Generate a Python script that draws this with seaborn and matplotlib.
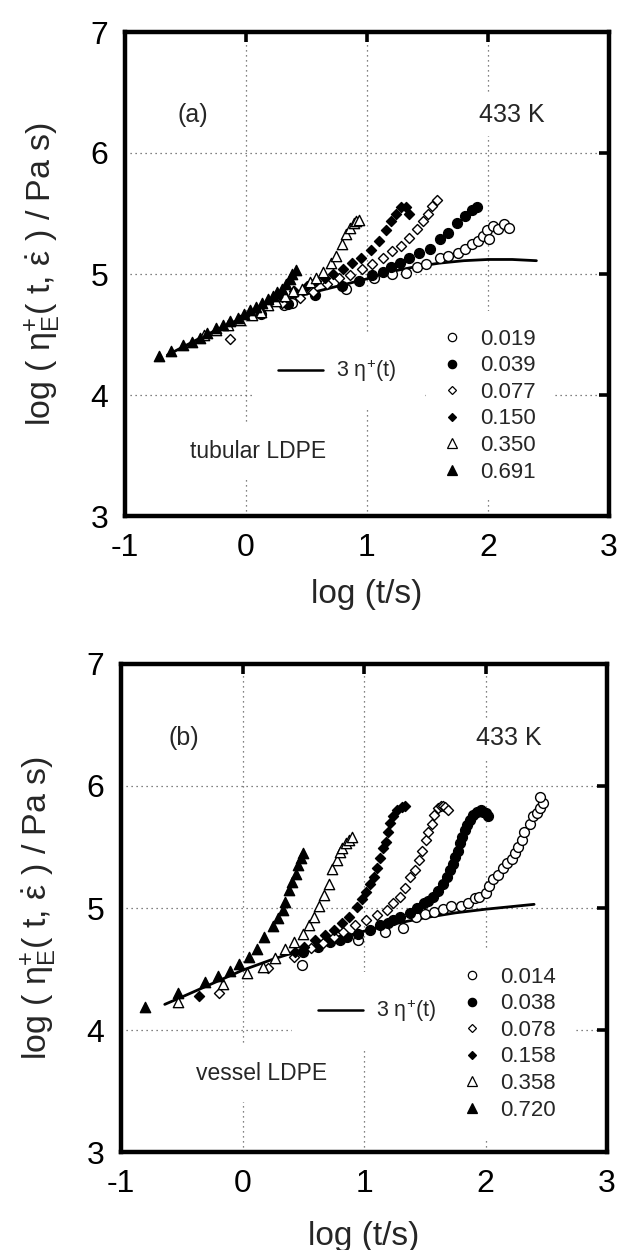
import matplotlib
matplotlib.use("Agg")
import matplotlib.pyplot as plt
import seaborn as sns
from matplotlib.lines import Line2D

# ---------------- data: panel (a) tubular LDPE ----------------
a_rates = ["0.019", "0.039", "0.077", "0.150", "0.350", "0.691"]
a_x_019 = [0.31, 0.38, 0.83, 1.06, 1.21, 1.32, 1.41, 1.49, 1.6, 1.67, 1.75, 1.81, 1.87, 1.92, 1.96, 1.99, 2.01, 2.04, 2.08, 2.13, 2.17]
a_y_019 = [4.74, 4.76, 4.88, 4.97, 5.0, 5.01, 5.06, 5.08, 5.13, 5.15, 5.17, 5.21, 5.25, 5.27, 5.31, 5.36, 5.29, 5.4, 5.37, 5.41, 5.38]
a_x_039 = [0.12, 0.35, 0.57, 0.79, 0.93, 1.04, 1.13, 1.2, 1.27, 1.35, 1.43, 1.52, 1.6, 1.67, 1.74, 1.81, 1.87, 1.91]
a_y_039 = [4.67, 4.75, 4.83, 4.9, 4.94, 4.99, 5.02, 5.06, 5.09, 5.13, 5.17, 5.21, 5.29, 5.34, 5.42, 5.48, 5.53, 5.55]
a_x_077 = [-0.13, 0.3, 0.45, 0.55, 0.67, 0.77, 0.86, 0.96, 1.04, 1.13, 1.21, 1.28, 1.35, 1.41, 1.46, 1.5, 1.54, 1.58]
a_y_077 = [4.46, 4.76, 4.8, 4.85, 4.92, 4.97, 4.99, 5.04, 5.08, 5.13, 5.19, 5.23, 5.3, 5.37, 5.44, 5.5, 5.56, 5.61]
a_x_150 = [0.2, 0.3, 0.4, 0.5, 0.58, 0.65, 0.72, 0.8, 0.88, 0.95, 1.03, 1.1, 1.16, 1.2, 1.24, 1.28, 1.32, 1.35]
a_y_150 = [4.76, 4.81, 4.86, 4.9, 4.94, 4.97, 5.0, 5.04, 5.09, 5.13, 5.2, 5.27, 5.36, 5.44, 5.5, 5.55, 5.55, 5.5]
a_x_350 = [-0.35, -0.25, -0.15, -0.05, 0.05, 0.12, 0.18, 0.25, 0.32, 0.39, 0.46, 0.53, 0.58, 0.64, 0.7, 0.74, 0.79, 0.83, 0.86, 0.89, 0.91, 0.93]
a_y_350 = [4.5, 4.54, 4.58, 4.62, 4.66, 4.69, 4.74, 4.78, 4.82, 4.86, 4.88, 4.93, 4.97, 5.02, 5.09, 5.15, 5.25, 5.33, 5.38, 5.42, 5.44, 5.45]
a_x_691 = [-0.72, -0.62, -0.52, -0.45, -0.38, -0.32, -0.25, -0.19, -0.13, -0.07, -0.02, 0.03, 0.08, 0.13, 0.18, 0.22, 0.26, 0.3, 0.33, 0.36, 0.38, 0.41]
a_y_691 = [4.32, 4.36, 4.41, 4.44, 4.47, 4.51, 4.55, 4.58, 4.61, 4.64, 4.67, 4.7, 4.73, 4.76, 4.79, 4.82, 4.85, 4.88, 4.92, 4.96, 5.0, 5.03]
a_line_x = [-0.65, -0.4, -0.2, 0.0, 0.2, 0.4, 0.6, 0.8, 1.0, 1.2, 1.4, 1.6, 1.8, 2.0, 2.2, 2.4]
a_line_y = [4.33, 4.46, 4.56, 4.65, 4.74, 4.81, 4.86, 4.91, 4.96, 5.02, 5.06, 5.09, 5.11, 5.12, 5.12, 5.11]

# ---------------- data: panel (b) vessel LDPE ----------------
b_rates = ["0.014", "0.038", "0.078", "0.158", "0.358", "0.720"]
b_x_014 = [0.49, 0.95, 1.17, 1.32, 1.43, 1.5, 1.58, 1.65, 1.72, 1.8, 1.86, 1.91, 1.95, 2.0, 2.03, 2.06, 2.1, 2.14, 2.18, 2.22, 2.24, 2.27, 2.3, 2.32, 2.37, 2.39, 2.42, 2.45, 2.47, 2.45]
b_y_014 = [4.53, 4.74, 4.8, 4.84, 4.93, 4.95, 4.97, 4.99, 5.02, 5.02, 5.04, 5.08, 5.09, 5.12, 5.18, 5.24, 5.27, 5.33, 5.37, 5.4, 5.45, 5.5, 5.56, 5.62, 5.69, 5.75, 5.78, 5.82, 5.86, 5.91]
b_x_038 = [0.5, 0.62, 0.72, 0.8, 0.86, 0.95, 1.05, 1.13, 1.2, 1.24, 1.3, 1.38, 1.44, 1.49, 1.53, 1.57, 1.61, 1.65, 1.68, 1.71, 1.73, 1.75, 1.77, 1.79, 1.81, 1.83, 1.85, 1.87, 1.9, 1.93, 1.96, 1.98, 2.0, 2.02]
b_y_038 = [4.64, 4.68, 4.72, 4.74, 4.76, 4.79, 4.82, 4.86, 4.88, 4.9, 4.93, 4.96, 5.0, 5.04, 5.06, 5.09, 5.14, 5.2, 5.25, 5.31, 5.36, 5.42, 5.47, 5.53, 5.58, 5.64, 5.68, 5.72, 5.76, 5.79, 5.8, 5.79, 5.78, 5.75]
b_x_078 = [-0.19, 0.21, 0.42, 0.56, 0.66, 0.75, 0.83, 0.93, 1.02, 1.11, 1.19, 1.24, 1.3, 1.34, 1.38, 1.42, 1.45, 1.48, 1.51, 1.53, 1.56, 1.58, 1.61, 1.63, 1.65, 1.67, 1.69]
b_y_078 = [4.3, 4.51, 4.6, 4.67, 4.71, 4.76, 4.8, 4.86, 4.9, 4.94, 4.98, 5.04, 5.09, 5.16, 5.25, 5.31, 5.39, 5.47, 5.56, 5.62, 5.69, 5.76, 5.82, 5.84, 5.84, 5.83, 5.8]
b_x_158 = [-0.36, 0.43, 0.51, 0.6, 0.68, 0.75, 0.82, 0.88, 0.94, 0.98, 1.02, 1.05, 1.08, 1.11, 1.13, 1.16, 1.18, 1.2, 1.21, 1.24, 1.27, 1.31, 1.34]
b_y_158 = [4.28, 4.64, 4.68, 4.74, 4.78, 4.82, 4.88, 4.93, 5.01, 5.07, 5.13, 5.2, 5.25, 5.33, 5.41, 5.49, 5.54, 5.62, 5.7, 5.75, 5.8, 5.83, 5.84]
b_x_358 = [-0.53, -0.16, 0.04, 0.17, 0.27, 0.35, 0.42, 0.5, 0.55, 0.59, 0.63, 0.67, 0.71, 0.74, 0.78, 0.8, 0.82, 0.85, 0.88, 0.9]
b_y_358 = [4.23, 4.38, 4.47, 4.52, 4.59, 4.66, 4.72, 4.79, 4.86, 4.93, 5.02, 5.11, 5.2, 5.32, 5.39, 5.46, 5.49, 5.53, 5.56, 5.58]
b_x_720 = [-0.8, -0.53, -0.31, -0.2, -0.1, -0.03, 0.05, 0.12, 0.18, 0.25, 0.29, 0.33, 0.35, 0.38, 0.41, 0.44, 0.46, 0.48, 0.5]
b_y_720 = [4.19, 4.3, 4.39, 4.44, 4.48, 4.54, 4.6, 4.66, 4.76, 4.85, 4.92, 4.98, 5.05, 5.15, 5.21, 5.28, 5.35, 5.41, 5.45]
b_line_x = [-0.64, -0.5, -0.25, 0.0, 0.25, 0.5, 0.75, 1.0, 1.25, 1.5, 1.75, 2.0, 2.2, 2.4]
b_line_y = [4.21, 4.27, 4.38, 4.49, 4.58, 4.66, 4.74, 4.81, 4.87, 4.92, 4.96, 4.99, 5.01, 5.03]

x_ticks = [-1, 0, 1, 2, 3]
y_ticks = [3, 4, 5, 6, 7]

# ---------------- style ----------------
sns.set_style("white")
plt.rcParams["font.family"] = ["Liberation Sans", "DejaVu Sans"]
plt.rcParams["mathtext.fontset"] = "custom"
plt.rcParams["mathtext.rm"] = "Liberation Sans"
plt.rcParams["mathtext.it"] = "Liberation Sans:italic"
plt.rcParams["axes.unicode_minus"] = False

# marker specs per series order (lowest to highest rate)
styles = [
    dict(marker="o", face="white", s=50),
    dict(marker="o", face="black", s=50),
    dict(marker="D", face="white", s=26),
    dict(marker="D", face="black", s=26),
    dict(marker="^", face="white", s=55),
    dict(marker="^", face="black", s=55),
]
leg_ms = [6, 6, 4.5, 4.5, 6.5, 6.5]

fig = plt.figure(figsize=(6.18, 12.5), dpi=100)
W, H = 618, 1250
ax_a = fig.add_axes([125 / W, 1 - 516 / H, 484 / W, 484 / H])
ax_b = fig.add_axes([121 / W, 1 - 1152 / H, 486 / W, 488 / H])

panels = [
    dict(ax=ax_a, rates=a_rates,
         xs=[a_x_019, a_x_039, a_x_077, a_x_150, a_x_350, a_x_691],
         ys=[a_y_019, a_y_039, a_y_077, a_y_150, a_y_350, a_y_691],
         lx=a_line_x, ly=a_line_y, tag="(a)", name="tubular LDPE",
         tag_xy=(-0.44, 6.31), temp_xy=(2.2, 6.31), name_xy=(0.1, 3.53),
         leg_anchor=(0.622, 0.228), line_anchor=(0.262, 0.30), xpad=12),
    dict(ax=ax_b, rates=b_rates,
         xs=[b_x_014, b_x_038, b_x_078, b_x_158, b_x_358, b_x_720],
         ys=[b_y_014, b_y_038, b_y_078, b_y_158, b_y_358, b_y_720],
         lx=b_line_x, ly=b_line_y, tag="(b)", name="vessel LDPE",
         tag_xy=(-0.48, 6.39), temp_xy=(2.19, 6.39), name_xy=(0.16, 3.64),
         leg_anchor=(0.668, 0.222), line_anchor=(0.352, 0.289), xpad=16),
]

white_box = dict(facecolor="white", edgecolor="none", pad=6)

for p in panels:
    ax = p["ax"]
    ax.set_xlim(-1, 3)
    ax.set_ylim(3, 7)
    ax.set_xticks(x_ticks)
    ax.set_yticks(y_ticks)
    ax.set_xticklabels([str(t) for t in x_ticks])
    ax.set_yticklabels([str(t) for t in y_ticks])
    ax.grid(True, color="0.35", linestyle=(0, (1, 3)), linewidth=0.9)
    ax.set_axisbelow(True)
    for sp in ax.spines.values():
        sp.set_visible(True)
        sp.set_linewidth(3.2)
        sp.set_color("black")
        sp.set_zorder(6)
    ax.tick_params(direction="in", length=7, width=2.6, top=True, right=True,
                   labelsize=23, pad=12, colors="black")

    sns.lineplot(x=p["lx"], y=p["ly"], color="black", linewidth=2.0, ax=ax,
                 sort=False, estimator=None, zorder=2)
    for xs, ys, st in zip(p["xs"], p["ys"], styles):
        sns.scatterplot(x=xs, y=ys, marker=st["marker"], s=st["s"],
                        facecolor=st["face"], edgecolor="black", linewidth=1.0,
                        ax=ax, zorder=3)

    ax.set_xlabel("log (t/s)", fontsize=24, labelpad=p["xpad"])
    ax.set_ylabel(r"log ( $\mathrm{\eta}_{\mathrm{E}}^{+}$( t, $\dot{\mathrm{\varepsilon}}$ ) / Pa s)",
                  fontsize=24.5, labelpad=20)

    ax.text(*p["tag_xy"], p["tag"], fontsize=18, ha="center", va="center",
            bbox=white_box, zorder=4)
    ax.text(*p["temp_xy"], "433 K", fontsize=18, ha="center", va="center",
            bbox=white_box, zorder=4)
    ax.text(*p["name_xy"], p["name"], fontsize=16.5, ha="center", va="center",
            bbox=dict(facecolor="white", edgecolor="none", pad=12), zorder=4)

    handles = [Line2D([], [], ls="none", marker=st["marker"],
                      markerfacecolor=st["face"], markeredgecolor="black",
                      markeredgewidth=0.9, markersize=ms)
               for st, ms in zip(styles, leg_ms)]
    leg = ax.legend(handles, p["rates"], loc="center left",
                    bbox_to_anchor=p["leg_anchor"], borderaxespad=0,
                    fontsize=16, frameon=True, fancybox=False,
                    facecolor="white", edgecolor="none", framealpha=1,
                    handlelength=0.75, handletextpad=0.9, labelspacing=0.25,
                    borderpad=0.8)
    leg.set_zorder(5)
    ax.add_artist(leg)
    lh = [Line2D([], [], color="black", linewidth=1.8)]
    leg2 = ax.legend(lh, [r"3 $\mathrm{\eta}^{+}$(t)"], loc="center left",
                     bbox_to_anchor=p["line_anchor"], borderaxespad=0,
                     fontsize=15.5, frameon=True, fancybox=False,
                     facecolor="white", edgecolor="none", framealpha=1,
                     handlelength=2.1, handletextpad=0.6, borderpad=1.2)
    leg2.set_zorder(5)

fig.savefig("out.png", dpi=100, facecolor="white")
